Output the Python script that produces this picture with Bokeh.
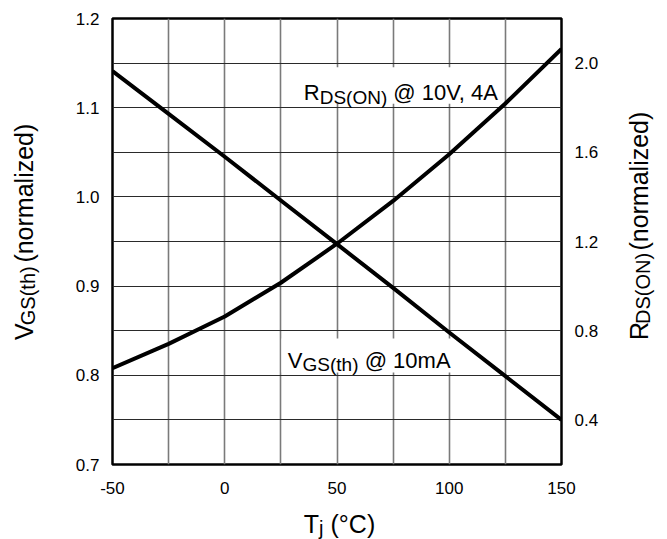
from bokeh.plotting import figure
from bokeh.layouts import row, column
from bokeh.models import (Range1d, LinearAxis, FixedTicker, PrintfTickFormatter,
                          Label, BoxAnnotation)
from bokeh.embed import file_html
from bokeh.resources import INLINE
import math

# ---- data ----
tj = [-50, -25, 0, 25, 50, 75, 100, 125, 150]
vgs_th = [1.141, 1.093, 1.045, 0.996, 0.947, 0.898, 0.848, 0.799, 0.750]
rds_on = [0.632, 0.741, 0.864, 1.015, 1.190, 1.382, 1.591, 1.819, 2.063]

x_ticks = [-50, 0, 50, 100, 150]
x_grid = [-50, -25, 0, 25, 50, 75, 100, 125, 150]
vgs_ticks = [0.7, 0.8, 0.9, 1.0, 1.1, 1.2]
vgs_grid = [0.7, 0.75, 0.8, 0.85, 0.9, 0.95, 1.0, 1.05, 1.1, 1.15, 1.2]
rds_ticks = [0.4, 0.8, 1.2, 1.6, 2.0]

FONT = "Liberation Sans"

# ---------------- main chart ----------------
p = figure(width=556, height=505,
           x_range=Range1d(-50, 150), y_range=Range1d(0.7, 1.2),
           output_backend="svg", toolbar_location=None,
           min_border_left=60, min_border_right=47,
           min_border_top=18, min_border_bottom=41)
p.extra_y_ranges = {"rds": Range1d(0.2, 2.2)}

p.outline_line_color = "black"
p.outline_line_width = 2.5
p.background_fill_color = "white"

p.xgrid.ticker = FixedTicker(ticks=x_grid)
p.ygrid.ticker = FixedTicker(ticks=vgs_grid)
p.xgrid.grid_line_color = "#7a7a7a"
p.xgrid.grid_line_width = 1.6
p.ygrid.grid_line_color = "#2a2a2a"
p.ygrid.grid_line_width = 1.1

def style_axis(ax, standoff):
    ax.axis_line_color = None
    ax.major_tick_line_color = None
    ax.minor_tick_line_color = None
    ax.major_tick_in = 0
    ax.major_tick_out = 0
    ax.minor_tick_in = 0
    ax.minor_tick_out = 0
    ax.major_label_text_font = FONT
    ax.major_label_text_font_size = "17px"
    ax.major_label_text_color = "black"
    ax.major_label_standoff = standoff

p.xaxis.ticker = FixedTicker(ticks=x_ticks)
p.xaxis.formatter = PrintfTickFormatter(format="%d")
p.yaxis.ticker = FixedTicker(ticks=vgs_ticks)
p.yaxis.formatter = PrintfTickFormatter(format="%.1f")
style_axis(p.xaxis[0], 17)
style_axis(p.yaxis[0], 13)

right_ax = LinearAxis(y_range_name="rds", ticker=FixedTicker(ticks=rds_ticks),
                      formatter=PrintfTickFormatter(format="%.1f"))
style_axis(right_ax, 13)
p.add_layout(right_ax, "right")

# white boxes behind the in-plot annotations (interrupt the grid)
p.add_layout(BoxAnnotation(left=32.85, right=123.3, top=1.1454, bottom=1.1044,
                           fill_color="white", fill_alpha=1.0, line_color=None,
                           level="underlay"))
p.add_layout(BoxAnnotation(left=25.3, right=102.8, top=0.8413, bottom=0.8031,
                           fill_color="white", fill_alpha=1.0, line_color=None,
                           level="underlay"))

# curves
p.line(tj, vgs_th, line_width=4, line_color="black", line_join="round")
p.line(tj, rds_on, y_range_name="rds", line_width=4, line_color="black",
       line_join="round")

def lab(fig, x, y, text, size, xo=0, yo=0, angle=0.0):
    fig.add_layout(Label(x=x, y=y, x_offset=xo, y_offset=yo, text=text,
                         text_font=FONT, text_font_size=f"{size}px",
                         text_color="black", text_baseline="alphabetic",
                         text_align="left", angle=angle))

# R_DS(ON) @ 10V, 4A
rx, ry = 35.2, 1.1167
lab(p, rx, ry, "R", 22)
lab(p, rx, ry, "DS(ON)", 19, 15.9, -4.4)
lab(p, rx, ry, "@ 10V, 4A", 22, 89.5, 0)

# V_GS(th) @ 10mA
vx, vy = 28.1, 0.8166
lab(p, vx, vy, "V", 22)
lab(p, vx, vy, "GS(th)", 19, 14.7, -4.3)
lab(p, vx, vy, "@ 10mA", 22, 76.8, 0)

# ---------------- title panels ----------------
def blank(w, h):
    f = figure(width=w, height=h, x_range=Range1d(0, w), y_range=Range1d(0, h),
               output_backend="svg", toolbar_location=None, min_border=0,
               x_axis_type=None, y_axis_type=None)
    f.outline_line_color = None
    f.grid.visible = False
    return f

A = math.pi / 2
TF, SF = 25, 20

left_t = blank(52, 505)
ly0 = 141
lab(left_t, 23, ly0, "V", TF, angle=A)
lab(left_t, 27.4, ly0 + 16.7, "GS(th)", SF, angle=A)
lab(left_t, 23, ly0 + 16.7 + 58.9 + 12.0, "(normalized)", TF, angle=A)

right_t = blank(59, 505)
ry0 = 141
lab(right_t, 30.4, ry0, "R", TF, angle=A)
lab(right_t, 34.8, ry0 + 18.1, "DS(ON)", SF, angle=A)
lab(right_t, 30.4, ry0 + 18.1 + 71.1 + 12.0, "(normalized)", TF, angle=A)

bottom_t = blank(667, 34)
lab(bottom_t, 303.3, 16, "T", TF)
lab(bottom_t, 303.3 + 15.3, 11.5, "j", SF)
lab(bottom_t, 303.3 + 15.3 + 4.4 + 7.0, 16, "(°C)", TF)

layout = column(row(left_t, p, right_t), bottom_t)

open("out.html", "w").write(file_html(layout, INLINE))
